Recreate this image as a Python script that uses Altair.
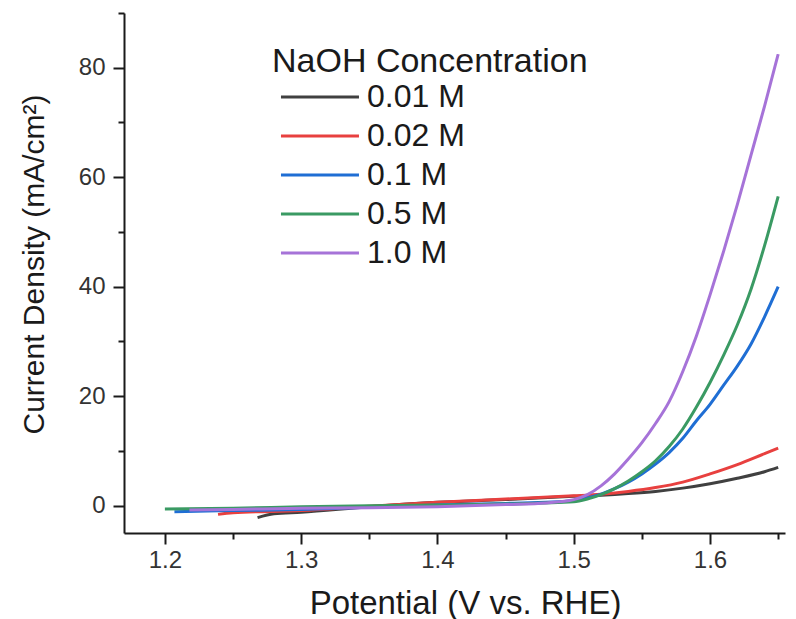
import altair as alt
import pandas as pd

series_labels = ["0.01 M", "0.02 M", "0.1 M", "0.5 M", "1.0 M"]
series_colors = ["#404040", "#e8403f", "#1f6ed4", "#3a9a63", "#a673d8"]

v_001 = [1.268, 1.28, 1.30, 1.35, 1.40, 1.45, 1.50, 1.52, 1.54, 1.56, 1.58, 1.60, 1.62, 1.64, 1.65]
j_001 = [-2.2, -1.5, -1.2, -0.2, 0.6, 1.1, 1.7, 1.9, 2.2, 2.6, 3.2, 4.0, 5.0, 6.2, 7.0]

v_002 = [1.239, 1.25, 1.30, 1.35, 1.40, 1.45, 1.50, 1.52, 1.54, 1.56, 1.58, 1.60, 1.62, 1.64, 1.65]
j_002 = [-1.6, -1.3, -0.9, -0.1, 0.6, 1.2, 1.8, 2.1, 2.6, 3.3, 4.3, 5.8, 7.5, 9.5, 10.5]

v_01 = [1.207, 1.25, 1.30, 1.35, 1.40, 1.45, 1.50, 1.51, 1.52, 1.53, 1.54, 1.55, 1.56, 1.57, 1.58,
        1.59, 1.60, 1.61, 1.62, 1.63, 1.64, 1.65]
j_01 = [-1.1, -0.9, -0.7, -0.3, 0.1, 0.4, 0.9, 1.4, 2.1, 3.1, 4.3, 5.8, 7.6, 9.7, 12.3,
        15.5, 18.5, 22.0, 25.5, 29.5, 34.5, 40.0]

v_05 = [1.200, 1.25, 1.30, 1.35, 1.40, 1.45, 1.50, 1.51, 1.52, 1.53, 1.54, 1.55, 1.56, 1.57, 1.58,
        1.59, 1.60, 1.61, 1.62, 1.63, 1.64, 1.65]
j_05 = [-0.6, -0.5, -0.2, 0.0, 0.1, 0.3, 0.7, 1.2, 2.0, 3.1, 4.5, 6.2, 8.2, 10.8, 14.0,
        18.0, 22.5, 27.5, 33.0, 39.5, 47.5, 56.5]

v_10 = [1.218, 1.25, 1.30, 1.35, 1.40, 1.45, 1.48, 1.50, 1.51, 1.52, 1.53, 1.54, 1.55, 1.56, 1.57,
        1.58, 1.59, 1.60, 1.61, 1.62, 1.63, 1.64, 1.65]
j_10 = [-0.8, -0.7, -0.5, -0.4, -0.2, 0.2, 0.5, 1.1, 2.0, 3.6, 5.8, 8.5, 11.5, 15.0, 19.0,
        24.5, 31.0, 38.5, 46.5, 55.0, 64.0, 73.0, 82.5]

x_ticks = [1.2, 1.25, 1.3, 1.35, 1.4, 1.45, 1.5, 1.55, 1.6, 1.65]
y_ticks = [0, 10, 20, 30, 40, 50, 60, 70, 80, 90]

rows = []
for lab, vs, js in zip(series_labels, [v_001, v_002, v_01, v_05, v_10],
                       [j_001, j_002, j_01, j_05, j_10]):
    for v, j in zip(vs, js):
        rows.append({"Potential": v, "Current": j, "Conc": lab})
df = pd.DataFrame(rows)

FONT = "Liberation Sans"

x_major = "abs(datum.value*10 - round(datum.value*10)) < 0.01"
y_major = "datum.value % 20 == 0"

chart = alt.Chart(df).mark_line(strokeWidth=3, interpolate="monotone").encode(
    x=alt.X(
        "Potential:Q",
        scale=alt.Scale(domain=[1.17, 1.655], nice=False, zero=False),
        axis=alt.Axis(
            title="Potential (V vs. RHE)",
            values=x_ticks,
            labelExpr=f"{x_major} ? format(datum.value, '.1f') : ''",
            tickSize={"condition": {"test": f"!({x_major})", "value": 6}, "value": 11},
            labelPadding=4,
            titleX=341,
            titleY=70,
            titleBaseline="middle",
            titleFontSize=33,
        ),
    ),
    y=alt.Y(
        "Current:Q",
        scale=alt.Scale(domain=[-5, 90], nice=False, zero=False),
        axis=alt.Axis(
            title="Current Density (mA/cm²)",
            values=y_ticks,
            labelExpr=f"{y_major} ? format(datum.value, 'd') : ''",
            tickSize={"condition": {"test": f"!({y_major})", "value": 6}, "value": 11},
            labelPadding=8,
            titleX=-90,
            titleY=251,
            titleAngle=-90,
            titleAlign="center",
            titleBaseline="middle",
            titleFontSize=30,
        ),
    ),
    color=alt.Color(
        "Conc:N",
        scale=alt.Scale(domain=series_labels, range=series_colors),
        legend=alt.Legend(
            title="NaOH Concentration",
            orient="none",
            legendX=148,
            legendY=32,
            padding=0,
            titleFontSize=34,
            titleFont=FONT,
            titleFontWeight="normal",
            titleColor="#1a1a1a",
            titlePadding=2,
            titleLimit=600,
            labelLimit=300,
            labelFontSize=32,
            labelFont=FONT,
            labelColor="#1a1a1a",
            labelOffset=63,
            rowPadding=7,
            symbolType="M-0.54,0H5.46",
            symbolSize=676,
            symbolStrokeWidth=3,
        ),
    ),
    order=alt.Order("Potential:Q"),
).properties(
    width=661,
    height=520,
    padding={"left": 124, "top": 13, "right": 11, "bottom": 86},
    autosize=alt.AutoSizeParams(type="none"),
    background="white",
).configure_view(
    stroke=None
).configure_axis(
    grid=False,
    domainColor="#1a1a1a",
    domainWidth=2,
    tickColor="#1a1a1a",
    tickWidth=2,
    labelFont=FONT,
    labelFontSize=24,
    labelColor="#333333",
    titleFont=FONT,
    titleFontWeight="normal",
    titleColor="#1a1a1a",
)

chart.save("out.html", embed_options={"renderer": "svg", "actions": False})
